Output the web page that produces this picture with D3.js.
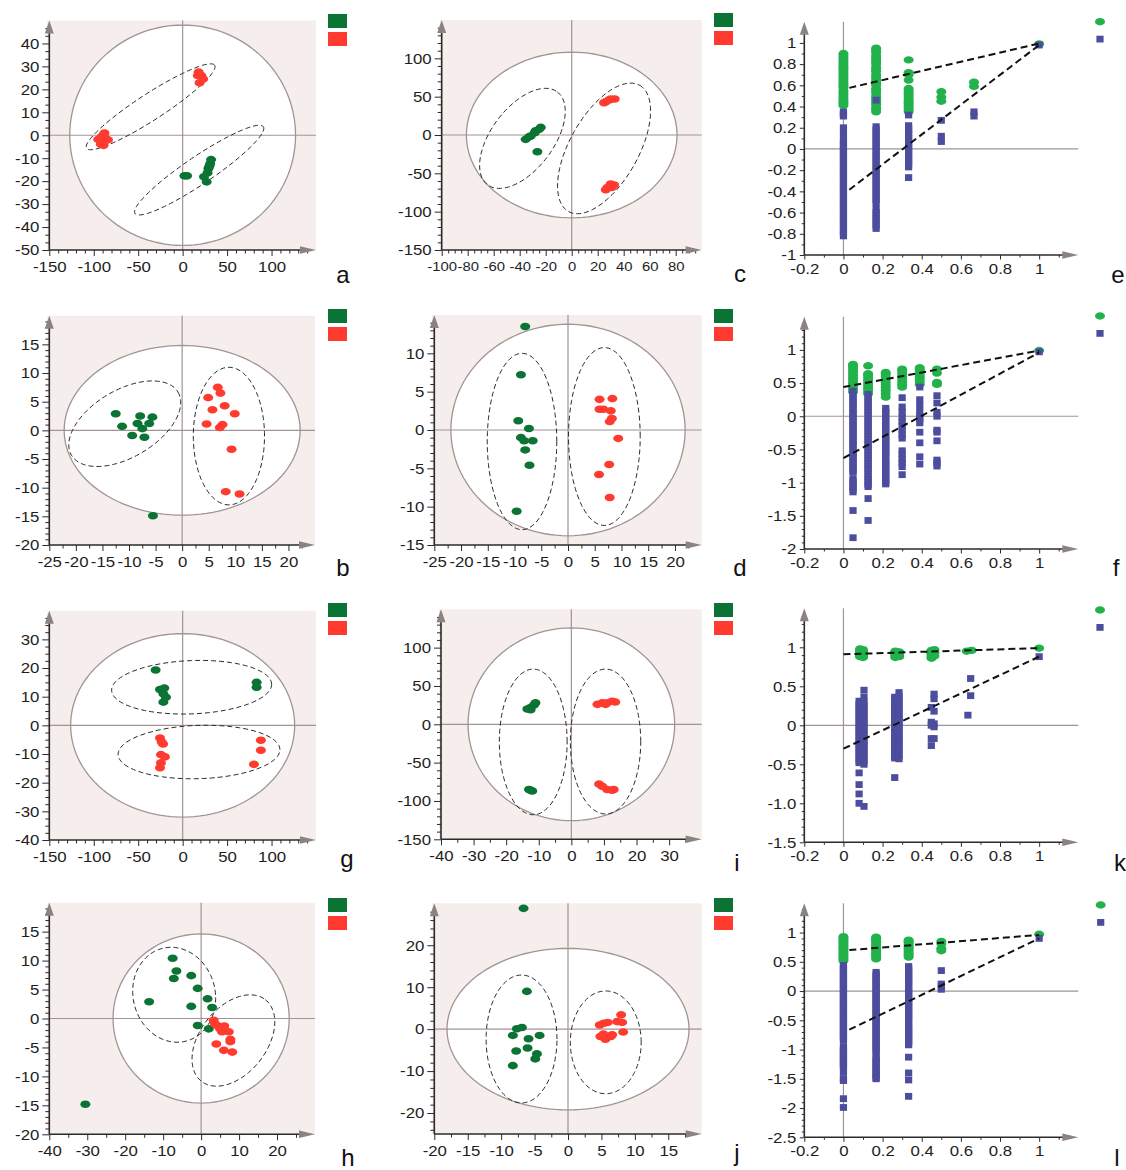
<!DOCTYPE html>
<html>
<head>
<meta charset="utf-8">
<script src="https://cdn.jsdelivr.net/npm/d3@7"></script>
<style>
  body { margin: 0; background: #fff; }
  svg { display: block; }
</style>
</head>
<body>
<svg id="fig" width="1126" height="1170"></svg>
<script>
// ---------- score plots: [t1, t2] per sample ----------
const aGreen = [[2,-17.7],[5,-17.7],[32,-10.6],[31,-12.4],[29,-14.5],[28,-16.4],[24,-18.1],[27,-20.3],[30,-13.5]];
const aRed   = [[-91,-0.5],[-87,-1.4],[-84,-2],[-92,-3.9],[-89,-4.4],[-95,-1.8],[-88,1],
                [18,27.5],[21,26],[23,24.5],[19,22.8],[17,26]];
const cGreen = [[-35.4,-5.7],[-31.5,-1.3],[-28.5,3],[-25.1,7.4],[-23.8,9.9],[-27.7,5.6],[-32.8,-2.5],[-26.4,-21.8]];
const cRed   = [[26.2,43.4],[30,46.9],[33.1,46.9],[28.7,45.6],[24.9,42],
                [30,-63.9],[32.6,-65.2],[27.5,-68.5],[26.2,-71.5],[30.8,-68.5]];
const bGreen = [[-12.5,2.9],[-11.3,0.7],[-7.9,2.5],[-5.6,2.3],[-8.4,1.2],[-6.2,1.2],[-7.5,0.3],[-9.4,-0.9],[-7.1,-1.2],[-5.5,-14.9]];
const bRed   = [[6.7,7.5],[4.9,5.7],[7.2,6.5],[8,4.3],[5.7,3.6],[9.9,2.9],[4.6,1.1],[7.6,1],[7.1,0.5],[9.3,-3.3],[8.2,-10.7],[10.8,-11.1]];
const dGreen = [[-8,13.5],[-8.8,7.2],[-9.3,1.2],[-7.3,0.2],[-8.8,-1],[-8.2,-1.4],[-6.6,-1.4],[-8,-2.6],[-7.2,-4.6],[-9.6,-10.6]];
const dRed   = [[5.9,4],[8.3,4.1],[5.9,2.7],[6.6,2.7],[8,2.5],[8.2,1.5],[7.8,1.1],[9.4,-1.1],[7.7,-4.5],[5.8,-5.8],[7.8,-8.8]];
const gGreen = [[-30.4,19.3],[-25.5,12.5],[-20.6,13],[-21.7,11],[-18.8,9.8],[-21.7,8.1],[83.2,15],[83.2,13.3]];
const gRed   = [[-25.5,-4.4],[-23.6,-5.8],[-24.4,-10.2],[-19.9,-11],[-24.4,-13.1],[-25.5,-14.8],[-22,-6.5],[88,-5.2],[88,-8.7],[80.2,-13.6]];
const iGreen = [[-13.5,20],[-12.5,22],[-11.5,25],[-11,28],[-12.5,19],[-13,-85],[-12,-87],[-12.5,-86]];
const iRed   = [[8,26],[9.5,28],[11,28],[12.5,30],[13.5,29],[10.5,26],[8.5,-78],[9.5,-81],[11,-85],[12.5,-86],[13,-85]];
const hGreen = [[-7.5,10.4],[-6.5,8.2],[-7.2,6.9],[-2.6,7.4],[-0.9,5.2],[-13.7,2.9],[1.7,3.4],[-2.6,2.1],[2.9,1.9],[-0.9,-1.2],[2,-1.8],[-30.5,-14.8]];
const hRed   = [[3.3,-0.3],[3.6,-0.9],[4.2,-1.2],[6.1,-1.3],[5.5,-2.3],[7.3,-2.3],[7.7,-3.6],[7.7,-4],[4,-4.4],[6,-5.5],[8.2,-5.8],[5,-1.8]];
const jGreen = [[-6.65,28.8],[-6.15,9],[-7.65,0.1],[-6.9,0.4],[-8.25,-1.5],[-5.9,-2.3],[-4.25,-1.5],[-6.05,-4.5],[-7.75,-5.2],[-4.65,-5.9],[-4.9,-7.1],[-8.25,-8.7]];
const jRed   = [[4.75,1],[5.35,1.4],[5.95,1.6],[7.35,1.8],[7.95,3.4],[8.1,1.6],[4.85,-1.75],[5.6,-2.4],[6.6,-1.35],[8.25,-0.7],[6.4,-1.75],[5.3,-1.2]];

// ---------- ellipses: centre c, conjugate semi-axes u and v (data units) ----------
const aT2 = {c:[0,0], u:[127,0], v:[0,48]};
const aEll = [{c:[-36,12.4], u:[72,18.1], v:[8.1,-4.8]}, {c:[18.6,-15.2], u:[72.2,18.9], v:[8.6,-5]}];
const cT2 = {c:[0,0], u:[81,0], v:[0,108]};
const cEll = [{c:[-37.9,-4.4], u:[26.9,60.5], v:[19,-24.5]}, {c:[24.9,-17.5], u:[27.4,82.3], v:[23,-22]}];
const bT2 = {c:[0,0], u:[22.2,0], v:[0,14.8]};
const bEll = [{c:[-10.8,1.16], u:[10,5.54], v:[3.3,-5]}, {c:[8.8,-1], u:[6.7,0], v:[0,12]}];
const dT2 = {c:[0,0], u:[21.9,0], v:[0,13.8]};
const dEll = [{c:[-8.6,-1.5], u:[6.5,0], v:[0,11.5]}, {c:[6.8,-0.85], u:[6.7,0], v:[0,11.6]}];
const gT2 = {c:[0,0], u:[126,0], v:[0,32]};
const gEll = [{c:[10.1,13.3], u:[90,1], v:[0,9.3]}, {c:[18.4,-9.3], u:[91,0.8], v:[0,9.3]}];
const iT2 = {c:[0,0], u:[31.7,0], v:[0,125.7]};
const iEll = [{c:[-11.7,-23], u:[10.4,0], v:[0,95]}, {c:[10.5,-22.5], u:[10.8,0], v:[0,94.5]}];
const hT2 = {c:[0,0], u:[23.2,0], v:[0,14.6]};
const hEll = [{c:[-7.1,4.1], u:[10.9,0], v:[-0.8,8.2]}, {c:[8.5,-3.8], u:[8.42,7.05], v:[6.92,-3.54]}];
const jT2 = {c:[0,0], u:[18.1,0], v:[0,19.25]};
const jEll = [{c:[-6.95,-2.35], u:[5.3,0], v:[0,15.25]}, {c:[5.65,-3.15], u:[5.3,0], v:[0,12.25]}];

// ---------- score plot tick labels ----------
const aXLabels = ['-150','-100','-50','0','50','100'];
const aYLabels = ['-50','-40','-30','-20','-10','0','10','20','30','40'];
const cXLabels = ['-100','-80','-60','-40','-20','0','20','40','60','80'];
const cYLabels = ['-150','-100','-50','0','50','100'];
const bXLabels = ['-25','-20','-15','-10','-5','0','5','10','15','20'];
const bYLabels = ['-20','-15','-10','-5','0','5','10','15'];
const dXLabels = ['-25','-20','-15','-10','-5','0','5','10','15','20'];
const dYLabels = ['-15','-10','-5','0','5','10'];
const gXLabels = ['-150','-100','-50','0','50','100'];
const gYLabels = ['-40','-30','-20','-10','0','10','20','30'];
const iXLabels = ['-40','-30','-20','-10','0','10','20','30'];
const iYLabels = ['-150','-100','-50','0','50','100'];
const hXLabels = ['-40','-30','-20','-10','0','10','20'];
const hYLabels = ['-20','-15','-10','-5','0','5','10','15'];
const jXLabels = ['-20','-15','-10','-5','0','5','10','15'];
const jYLabels = ['-20','-10','0','10','20'];

// ---------- permutation tests: [x, [values]] ----------
const eR2 = [
  [0, [0.41,0.43,0.45,0.47,0.49,0.51,0.53,0.55,0.58,0.6,0.62,0.64,0.66,0.68,0.7,0.72,0.74,0.76,0.78,0.8,0.82,0.84,0.86,0.88,0.9]],
  [0.167, [0.35,0.37,0.39,0.42,0.44,0.46,0.48,0.5,0.53,0.55,0.57,0.6,0.62,0.64,0.66,0.68,0.7,0.73,0.75,0.77,0.8,0.82,0.84,0.86,0.88,0.91,0.93,0.95]],
  [0.333, [0.35,0.37,0.39,0.41,0.43,0.45,0.47,0.49,0.51,0.53,0.55,0.57,0.65,0.7,0.72,0.84]],
  [0.5, [0.45,0.49,0.54]],
  [0.667, [0.59,0.63]],
  [1, [0.99]]
];
const eQ2 = [
  [0, [-0.82,-0.79,-0.76,-0.73,-0.7,-0.67,-0.64,-0.61,-0.58,-0.55,-0.52,-0.49,-0.46,-0.43,-0.4,-0.37,-0.34,-0.31,-0.28,-0.25,-0.22,-0.19,-0.16,-0.13,-0.1,-0.07,-0.04,-0.01,0.02,0.05,0.08,0.14,0.2,0.31,0.33,0.35]],
  [0.167, [-0.75,-0.72,-0.69,-0.66,-0.63,-0.6,-0.57,-0.51,-0.48,-0.45,-0.42,-0.39,-0.36,-0.33,-0.3,-0.27,-0.24,-0.21,-0.18,-0.15,-0.12,-0.09,-0.06,-0.03,0,0.03,0.06,0.09,0.12,0.15,0.18,0.21,0.46]],
  [0.333, [-0.27,-0.17,-0.14,-0.11,-0.08,-0.05,-0.02,0.01,0.04,0.07,0.1,0.13,0.16,0.19,0.22,0.32]],
  [0.5, [0.07,0.12,0.27]],
  [0.667, [0.31,0.35]],
  [1, [0.98]]
];
const eR2Line = [[0.03,0.576],[1,0.995]];
const eQ2Line = [[0.03,-0.384],[1,0.98]];

const fR2 = [
  [0.049, [0.37,0.41,0.45,0.49,0.53,0.57,0.61,0.65,0.69,0.73,0.76,0.78]],
  [0.126, [0.34,0.38,0.42,0.46,0.5,0.54,0.58,0.62,0.64,0.76]],
  [0.216, [0.29,0.34,0.39,0.43,0.47,0.51,0.55,0.59,0.63,0.66]],
  [0.3, [0.44,0.48,0.52,0.56,0.6,0.64,0.68,0.71]],
  [0.39, [0.48,0.52,0.56,0.6,0.64,0.68,0.71,0.73]],
  [0.478, [0.48,0.51,0.65,0.71]],
  [1, [0.99]]
];
const fQ2 = [
  [0.049, [0.38,0.34,0.3,0.26,0.22,0.18,0.14,0.1,0.06,0.02,-0.02,-0.06,-0.1,-0.14,-0.18,-0.22,-0.26,-0.3,-0.34,-0.38,-0.42,-0.46,-0.5,-0.54,-0.58,-0.62,-0.66,-0.7,-0.74,-0.78,-0.82,-0.84,-0.94,-0.98,-1.02,-1.06,-1.1,-1.14,-1.42,-1.83]],
  [0.126, [0.33,0.29,0.25,0.21,0.17,0.13,0.09,0.05,0.01,-0.03,-0.07,-0.11,-0.15,-0.19,-0.23,-0.27,-0.31,-0.35,-0.39,-0.43,-0.47,-0.51,-0.55,-0.59,-0.63,-0.67,-0.71,-0.75,-0.79,-0.82,-0.87,-0.91,-0.95,-0.99,-1.03,-1.06,-1.24,-1.57]],
  [0.216, [0.12,0.08,0.04,0,-0.04,-0.08,-0.12,-0.16,-0.2,-0.24,-0.28,-0.32,-0.36,-0.38,-0.43,-0.47,-0.51,-0.55,-0.58,-0.63,-0.67,-0.71,-0.75,-0.79,-0.83,-0.87,-0.91,-0.95,-0.99,-1.02]],
  [0.3, [0.28,0.14,0.06,-0.02,-0.08,-0.14,-0.21,-0.27,-0.33,-0.52,-0.58,-0.64,-0.7,-0.76,-0.88]],
  [0.39, [0.44,0.25,0.16,0.06,0,-0.04,-0.1,-0.24,-0.4,-0.61,-0.72]],
  [0.478, [0.31,0.2,0.06,0,-0.21,-0.24,-0.37,-0.66,-0.7,-0.75]],
  [1, [0.97]]
];
const fR2Line = [[0,0.44],[1,0.99]];
const fQ2Line = [[0,-0.63],[1,0.96]];

const kR2 = [
  [0.085, [0.88,0.9,0.92,0.94,0.96,0.98]],
  [0.1, [0.87,0.89,0.91,0.93,0.95,0.97]],
  [0.265, [0.87,0.89,0.91,0.93,0.95]],
  [0.285, [0.88,0.9,0.92,0.94]],
  [0.45, [0.86,0.88,0.9,0.92,0.94,0.96]],
  [0.465, [0.89,0.93,0.97]],
  [0.63, [0.95]],
  [0.655, [0.96]],
  [1, [0.99]]
];
const kQ2 = [
  [0.08, [0.31,0.27,0.23,0.19,0.15,0.11,0.07,0.03,-0.01,-0.05,-0.09,-0.13,-0.17,-0.21,-0.25,-0.29,-0.33,-0.37,-0.41,-0.45,-0.48,-0.61,-0.76,-0.88,-1]],
  [0.105, [0.45,0.36,0.3,0.26,0.22,0.18,0.14,0.1,0.06,0.02,-0.02,-0.06,-0.1,-0.14,-0.18,-0.22,-0.26,-0.3,-0.34,-0.38,-0.42,-0.46,-0.5,-1.04]],
  [0.262, [0.36,0.32,0.28,0.24,0.2,0.16,0.12,0.08,0.04,0,-0.04,-0.08,-0.12,-0.16,-0.2,-0.24,-0.28,-0.32,-0.36,-0.4,-0.42,-0.67]],
  [0.284, [0.42,0.37,0.33,0.29,0.25,0.21,0.17,0.13,0.09,0.05,0.01,-0.03,-0.07,-0.11,-0.15,-0.19,-0.23,-0.27,-0.31,-0.35,-0.39,-0.43]],
  [0.449, [0.23,0.04,0,-0.17,-0.26]],
  [0.463, [0.4,0.34,0.18,0.02,-0.02,-0.17]],
  [0.636, [0.13]],
  [0.65, [0.6,0.38]],
  [1, [0.88]]
];
const kR2Line = [[0,0.91],[1,0.99]];
const kQ2Line = [[0,-0.3],[1,0.88]];

const lR2 = [
  [0, [0.52,0.55,0.58,0.61,0.64,0.67,0.7,0.73,0.76,0.79,0.82,0.85,0.88,0.91,0.93]],
  [0.167, [0.55,0.58,0.61,0.64,0.67,0.7,0.73,0.76,0.79,0.82,0.85,0.88,0.9,0.92]],
  [0.333, [0.58,0.61,0.64,0.67,0.7,0.73,0.76,0.79,0.82,0.85,0.87]],
  [0.5, [0.69,0.73,0.81,0.85]],
  [1, [0.97]]
];
const lQ2 = [
  [0, [0.44,0.4,0.36,0.32,0.28,0.24,0.2,0.16,0.12,0.08,0.04,0,-0.04,-0.08,-0.12,-0.16,-0.2,-0.24,-0.28,-0.32,-0.36,-0.4,-0.44,-0.48,-0.52,-0.56,-0.6,-0.64,-0.68,-0.72,-0.76,-0.8,-0.84,-0.95,-0.99,-1.03,-1.07,-1.11,-1.15,-1.19,-1.23,-1.27,-1.3,-1.39,-1.5,-1.53,-1.84,-1.99]],
  [0.167, [0.32,0.28,0.24,0.2,0.16,0.12,0.08,0.04,0,-0.04,-0.08,-0.12,-0.16,-0.2,-0.24,-0.28,-0.32,-0.36,-0.4,-0.44,-0.48,-0.52,-0.56,-0.6,-0.64,-0.68,-0.72,-0.76,-0.8,-0.84,-0.88,-0.92,-0.96,-1,-1.04,-1.12,-1.16,-1.2,-1.24,-1.28,-1.32,-1.36,-1.4,-1.44,-1.48,-1.5]],
  [0.333, [0.42,0.38,0.34,0.3,0.26,0.22,0.18,0.15,0.1,0.06,0.02,-0.02,-0.06,-0.1,-0.14,-0.18,-0.22,-0.26,-0.3,-0.34,-0.38,-0.42,-0.46,-0.5,-0.56,-0.6,-0.64,-0.68,-0.72,-0.76,-0.8,-0.84,-0.88,-0.92,-1.13,-1.4,-1.52,-1.8]],
  [0.5, [0.35,0.12,0.08,0.03]],
  [1, [0.9]]
];
const lR2Line = [[0.03,0.7],[1,0.96]];
const lQ2Line = [[0.03,-0.66],[1,0.9]];

const permXLabels = ['-0.2','0','0.2','0.4','0.6','0.8','1'];
const eYLabels = ['-1','-0.8','-0.6','-0.4','-0.2','0','0.2','0.4','0.6','0.8','1'];
const fYLabels = ['-2','-1.5','-1','-0.5','0','0.5','1'];
const kYLabels = ['-1.5','-1.0','-0.5','0','0.5','1'];
const lYLabels = ['-2.5','-2','-1.5','-1','-0.5','0','0.5','1'];

// ---------- styling ----------
const DARK_GREEN = '#0b7434', RED = '#ff3b2f', LIGHT_GREEN = '#22b24c', SLATE = '#4d4d9e';
const AXIS = '#2b2b2b', REF = '#a29494', ARROW = '#8c8282', PINK = '#f6eded';
const FONT = '"Liberation Sans", Arial, sans-serif';

const svg = d3.select('#fig');
svg.append('rect').attr('width', 1126).attr('height', 1170).attr('fill', '#fff');

function minorTicks(dom, labels, sub) {
  const maj = labels.map(Number);
  const step = (maj[1] - maj[0]) / sub;
  const lo = Math.min(dom[0], dom[1]), hi = Math.max(dom[0], dom[1]);
  const out = [];
  for (let k = Math.ceil((lo - maj[0]) / step - 1e-9); k < 1000; k++) {
    const v = maj[0] + k * step;
    if (v > hi - step * 0.3) break;
    if (!maj.some(m => Math.abs(m - v) < step * 0.01)) out.push(v);
  }
  return out;
}

function ellipsePath(x, y, e) {
  const pts = d3.range(0, 2 * Math.PI, Math.PI / 60).map(t => [
    e.c[0] + Math.cos(t) * e.u[0] + Math.sin(t) * e.v[0],
    e.c[1] + Math.cos(t) * e.u[1] + Math.sin(t) * e.v[1]
  ]);
  return d3.line().x(d => x(d[0])).y(d => y(d[1])).curve(d3.curveLinearClosed)(pts);
}

function drawAxes(g, x, y, p, st) {
  const ax = p.xr[0], ay = p.yr[0];
  const yTop = p.yr[1], xEnd = p.xr[1];
  const fy = p.yFont || [15, 1.12], fx = p.xFont || [15, 1.12];

  g.append('g').attr('transform', `translate(${ax},0)`).attr('color', AXIS)
    .call(d3.axisLeft(y).tickValues(minorTicks(p.yd, p.yl, p.ysub)).tickSize(st.yMin).tickFormat(() => ''))
    .call(s => s.select('.domain').remove());
  g.append('g').attr('transform', `translate(0,${ay})`).attr('color', AXIS)
    .call(d3.axisBottom(x).tickValues(minorTicks(p.xd, p.xl, p.xsub)).tickSize(st.xMin).tickFormat(() => ''))
    .call(s => s.select('.domain').remove());

  const ya = g.append('g').attr('transform', `translate(${ax},0)`)
    .call(d3.axisLeft(y).tickValues(p.yl.map(Number)).tickSize(st.yMaj).tickFormat((d, i) => p.yl[i]));
  ya.select('.domain').remove();
  ya.attr('color', AXIS).attr('font-family', FONT).attr('font-size', fy[0]);
  ya.selectAll('text').attr('x', -st.yGap / fy[1]).attr('transform', `scale(${fy[1]},1)`).attr('fill', '#1e1e1e');

  const xa = g.append('g').attr('transform', `translate(0,${ay})`)
    .call(d3.axisBottom(x).tickValues(p.xl.map(Number)).tickSize(st.xMaj).tickFormat((d, i) => p.xl[i]));
  xa.select('.domain').remove();
  xa.attr('color', AXIS).attr('font-family', FONT).attr('font-size', fx[0]);
  xa.selectAll('text').attr('y', st.xGap).attr('transform', `scale(${fx[1]},1)`).attr('fill', '#1e1e1e');

  g.append('line').attr('x1', ax).attr('y1', ay).attr('x2', ax).attr('y2', yTop + 12)
    .attr('stroke', AXIS).attr('stroke-width', 1.6);
  g.append('line').attr('x1', ax).attr('y1', ay).attr('x2', xEnd - 14).attr('y2', ay)
    .attr('stroke', AXIS).attr('stroke-width', 1.6);
  g.append('path').attr('d', `M${ax - 4.5},${yTop + 13}L${ax},${yTop}L${ax + 4.5},${yTop + 13}Z`).attr('fill', ARROW);
  g.append('path').attr('d', `M${xEnd - 16},${ay - 3.8}L${xEnd},${ay}L${xEnd - 16},${ay + 3.8}Z`).attr('fill', ARROW);
}

function drawLetter(pos, txt) {
  svg.append('text').attr('x', pos[0]).attr('y', pos[1]).attr('text-anchor', 'middle')
    .attr('font-family', FONT).attr('font-size', 24).attr('fill', '#111').text(txt);
}

// ---------- OPLS-DA score plots ----------
const scoreStyle = {yMaj: 7, yMin: 4, xMaj: 6, xMin: 3.5, yGap: 10, xGap: 11};
const scorePanels = [
  {id: 'a', xr: [49.3, 316], yr: [250, 20.5], xd: [-150, 150], yd: [-50, 50], xl: aXLabels, yl: aYLabels, xsub: 5, ysub: 3,
   green: aGreen, red: aRed, t2: aT2, ells: aEll, letter: [343, 283], legend: [328, 14]},
  {id: 'c', xr: [441.7, 701.7], yr: [250, 20], xd: [-100, 100], yd: [-150, 150], xl: cXLabels, yl: cYLabels, xsub: 4, ysub: 5,
   xFont: [13.5, 1.1], green: cGreen, red: cRed, t2: cT2, ells: cEll, letter: [740, 282], legend: [714, 13]},
  {id: 'b', xr: [49.3, 315], yr: [545, 315.7], xd: [-25, 25], yd: [-20, 20], xl: bXLabels, yl: bYLabels, xsub: 2, ysub: 5,
   green: bGreen, red: bRed, t2: bT2, ells: bEll, letter: [343, 576], legend: [328, 309]},
  {id: 'd', xr: [434.3, 701.7], yr: [545, 315], xd: [-25, 25], yd: [-15, 15], xl: dXLabels, yl: dYLabels, xsub: 2, ysub: 5,
   green: dGreen, red: dRed, t2: dT2, ells: dEll, letter: [740, 576], legend: [714, 309]},
  {id: 'g', xr: [49.3, 316], yr: [840, 610.7], xd: [-150, 150], yd: [-40, 40], xl: gXLabels, yl: gYLabels, xsub: 5, ysub: 4,
   green: gGreen, red: gRed, t2: gT2, ells: gEll, letter: [347, 867], legend: [328, 603]},
  {id: 'i', xr: [441, 701.7], yr: [839.3, 609.3], xd: [-40, 40], yd: [-150, 150], xl: iXLabels, yl: iYLabels, xsub: 2, ysub: 5,
   green: iGreen, red: iRed, t2: iT2, ells: iEll, letter: [737, 871], legend: [714, 603]},
  {id: 'h', xr: [49.3, 315], yr: [1134.3, 902.7], xd: [-40, 30], yd: [-20, 20], xl: hXLabels, yl: hYLabels, xsub: 2, ysub: 5,
   green: hGreen, red: hRed, t2: hT2, ells: hEll, letter: [348, 1166], legend: [328, 898]},
  {id: 'j', xr: [434.3, 701.7], yr: [1134, 903.3], xd: [-20, 20], yd: [-25, 30], xl: jXLabels, yl: jYLabels, xsub: 2, ysub: 5,
   green: jGreen, red: jRed, t2: jT2, ells: jEll, letter: [737, 1161], legend: [714, 898]}
];

scorePanels.forEach(p => {
  const g = svg.append('g').attr('class', 'score-' + p.id);
  const x = d3.scaleLinear().domain(p.xd).range(p.xr);
  const y = d3.scaleLinear().domain(p.yd).range(p.yr);

  g.append('rect').attr('x', p.xr[0] - 2).attr('y', p.yr[1])
    .attr('width', p.xr[1] - p.xr[0] + 2).attr('height', p.yr[0] - p.yr[1]).attr('fill', PINK);
  g.append('path').attr('d', ellipsePath(x, y, p.t2)).attr('fill', '#fff').attr('stroke', REF).attr('stroke-width', 1.3);
  g.append('line').attr('x1', x(0)).attr('x2', x(0)).attr('y1', p.yr[1]).attr('y2', p.yr[0]).attr('stroke', REF).attr('stroke-width', 1.2);
  g.append('line').attr('x1', p.xr[0]).attr('x2', p.xr[1]).attr('y1', y(0)).attr('y2', y(0)).attr('stroke', REF).attr('stroke-width', 1.2);

  p.ells.forEach(e => g.append('path').attr('d', ellipsePath(x, y, e)).attr('fill', 'none')
    .attr('stroke', '#2a2a2a').attr('stroke-width', 1).attr('stroke-dasharray', '5,3'));

  g.append('g').selectAll('ellipse').data(p.green).join('ellipse')
    .attr('cx', d => x(d[0])).attr('cy', d => y(d[1])).attr('rx', 5).attr('ry', 3.8).attr('fill', DARK_GREEN);
  g.append('g').selectAll('ellipse').data(p.red).join('ellipse')
    .attr('cx', d => x(d[0])).attr('cy', d => y(d[1])).attr('rx', 5).attr('ry', 3.8).attr('fill', RED);

  drawAxes(g, x, y, p, scoreStyle);

  g.append('rect').attr('x', p.legend[0]).attr('y', p.legend[1]).attr('width', 19).attr('height', 14).attr('fill', DARK_GREEN);
  g.append('rect').attr('x', p.legend[0]).attr('y', p.legend[1] + 18).attr('width', 19).attr('height', 14).attr('fill', RED);
  drawLetter(p.letter, p.id);
});

// ---------- permutation test plots ----------
const permStyle = {yMaj: 4.5, yMin: 2.5, xMaj: 4.5, xMin: 2.5, yGap: 8, xGap: 8};
const permPanels = [
  {id: 'e', yr: [255, 21.7], yd: [-1, 1.2], yl: eYLabels, ysub: 2, r2: eR2, q2: eQ2, r2Line: eR2Line, q2Line: eQ2Line, letter: [1118, 283], legend: [1100, 21.7]},
  {id: 'f', yr: [549, 316.7], yd: [-2, 1.5], yl: fYLabels, ysub: 5, r2: fR2, q2: fQ2, r2Line: fR2Line, q2Line: fQ2Line, letter: [1116, 576], legend: [1100, 316]},
  {id: 'k', yr: [842.3, 608.3], yd: [-1.5, 1.5], yl: kYLabels, ysub: 5, r2: kR2, q2: kQ2, r2Line: kR2Line, q2Line: kQ2Line, letter: [1120, 871], legend: [1100, 610]},
  {id: 'l', yr: [1137.3, 903.3], yd: [-2.5, 1.5], yl: lYLabels, ysub: 5, r2: lR2, q2: lQ2, r2Line: lR2Line, q2Line: lQ2Line, letter: [1117, 1166], legend: [1100.7, 905]}
];

permPanels.forEach(p => {
  p.xr = [804.3, 1078.3]; p.xd = [-0.2, 1.2]; p.xl = permXLabels; p.xsub = 2;
  const g = svg.append('g').attr('class', 'perm-' + p.id);
  const x = d3.scaleLinear().domain(p.xd).range(p.xr);
  const y = d3.scaleLinear().domain(p.yd).range(p.yr);

  g.append('line').attr('x1', x(0)).attr('x2', x(0)).attr('y1', p.yr[1]).attr('y2', p.yr[0]).attr('stroke', REF).attr('stroke-width', 1.2);
  g.append('line').attr('x1', p.xr[0]).attr('x2', p.xr[1]).attr('y1', y(0)).attr('y2', y(0)).attr('stroke', REF).attr('stroke-width', 1.2);

  const r2pts = p.r2.flatMap(([cx, vals]) => vals.map(v => [cx, v]));
  const q2pts = p.q2.flatMap(([cx, vals]) => vals.map(v => [cx, v]));

  g.append('g').selectAll('ellipse').data(r2pts).join('ellipse')
    .attr('cx', d => x(d[0])).attr('cy', d => y(d[1])).attr('rx', 5).attr('ry', 3.7).attr('fill', LIGHT_GREEN);
  g.append('g').selectAll('rect').data(q2pts).join('rect')
    .attr('x', d => x(d[0]) - 3.6).attr('y', d => y(d[1]) - 3.4).attr('width', 7.2).attr('height', 6.8).attr('fill', SLATE);

  const line = d3.line().x(d => x(d[0])).y(d => y(d[1]));
  [p.r2Line, p.q2Line].forEach(l => g.append('path').attr('d', line(l)).attr('fill', 'none')
    .attr('stroke', '#111').attr('stroke-width', 2).attr('stroke-dasharray', '7,4'));

  drawAxes(g, x, y, p, permStyle);

  g.append('ellipse').attr('cx', p.legend[0]).attr('cy', p.legend[1]).attr('rx', 5).attr('ry', 3.7).attr('fill', LIGHT_GREEN);
  g.append('rect').attr('x', p.legend[0] - 3.6).attr('y', p.legend[1] + 14).attr('width', 7.2).attr('height', 6.8).attr('fill', SLATE);
  drawLetter(p.letter, p.id);
});
</script>
</body>
</html>
